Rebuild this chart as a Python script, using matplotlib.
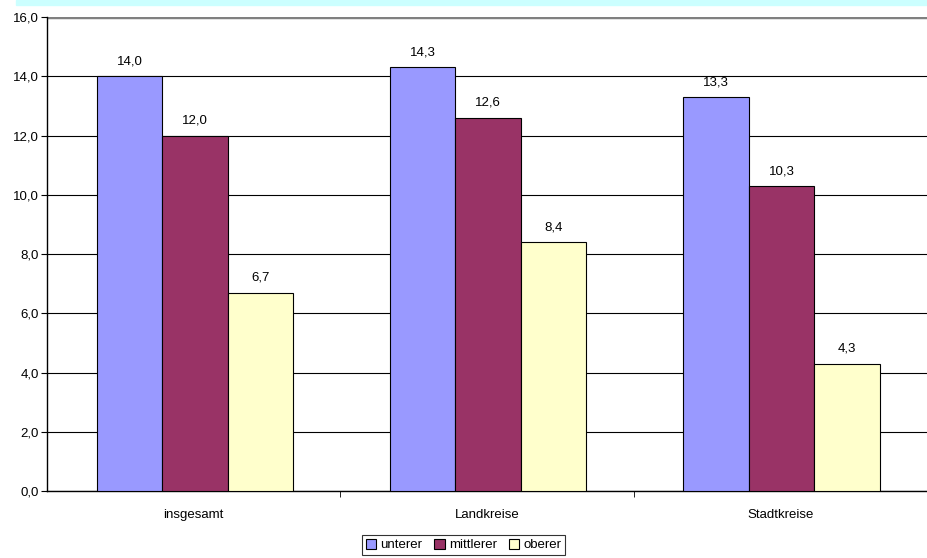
import numpy as np
import matplotlib.pyplot as plt
from matplotlib.patches import Rectangle

plt.rcParams['font.family'] = ['Liberation Sans', 'DejaVu Sans']
plt.rcParams['font.size'] = 9.5

# --- données ---
categories = ["insgesamt", "Landkreise", "Stadtkreise"]
series = ["unterer", "mittlerer", "oberer"]
unterer = [14.0, 14.3, 13.3]
mittlerer = [12.0, 12.6, 10.3]
oberer = [6.7, 8.4, 4.3]
colors = ["#9999FF", "#993366", "#FFFFCC"]

fig = plt.figure(figsize=(9.27, 5.58), dpi=100)
ax = fig.add_axes([0.0507, 0.12, 0.9493, 0.8495])

# bande en haut
fig.patches.append(Rectangle((16 / 927, 1 - 5 / 558), 1, 5 / 558,
                             transform=fig.transFigure, color="#CCFFFF", zorder=0))

x = np.arange(len(categories))
w = 0.223
for i, (vals, name) in enumerate(zip([unterer, mittlerer, oberer], series)):
    pos = x + (i - 1) * w + 0.004
    ax.bar(pos, vals, w, color=colors[i], edgecolor="black", linewidth=0.8,
           label=name, zorder=3)
    for p, v in zip(pos, vals):
        ax.text(p, v + 0.3, f"{v:.1f}".replace(".", ","), ha="center",
                va="bottom", zorder=4)

ax.set_xlim(-0.5, 2.5)
ax.set_ylim(0, 16)
ax.set_yticks(np.arange(0, 16.1, 2))
ax.set_yticklabels([f"{t:.1f}".replace(".", ",") for t in np.arange(0, 16.1, 2)])
ax.set_xticks(x)
ax.set_xticklabels(categories)
ax.set_xticks([0.5, 1.5], minor=True)
ax.tick_params(axis="x", which="major", length=0, pad=13)
ax.tick_params(axis="x", which="minor", length=4, color="black")
ax.tick_params(axis="y", length=4, color="black", pad=2)

ax.grid(axis="y", color="black", linewidth=0.8, zorder=0)
for s in ["top", "right"]:
    ax.spines[s].set_visible(False)
ax.axhline(16, color="#808080", linewidth=2.5, zorder=2)
ax.spines["left"].set_linewidth(1.0)
ax.spines["bottom"].set_linewidth(1.0)

leg = ax.legend(loc="upper center", bbox_to_anchor=(0.5 - 0.5 * 47 / 880, -0.078),
                ncol=3, frameon=True, fancybox=False, edgecolor="black",
                handlelength=0.8, handleheight=0.8, handletextpad=0.3,
                columnspacing=0.9, borderpad=0.3)
leg.get_frame().set_linewidth(0.8)

fig.savefig("out.png", dpi=100)
